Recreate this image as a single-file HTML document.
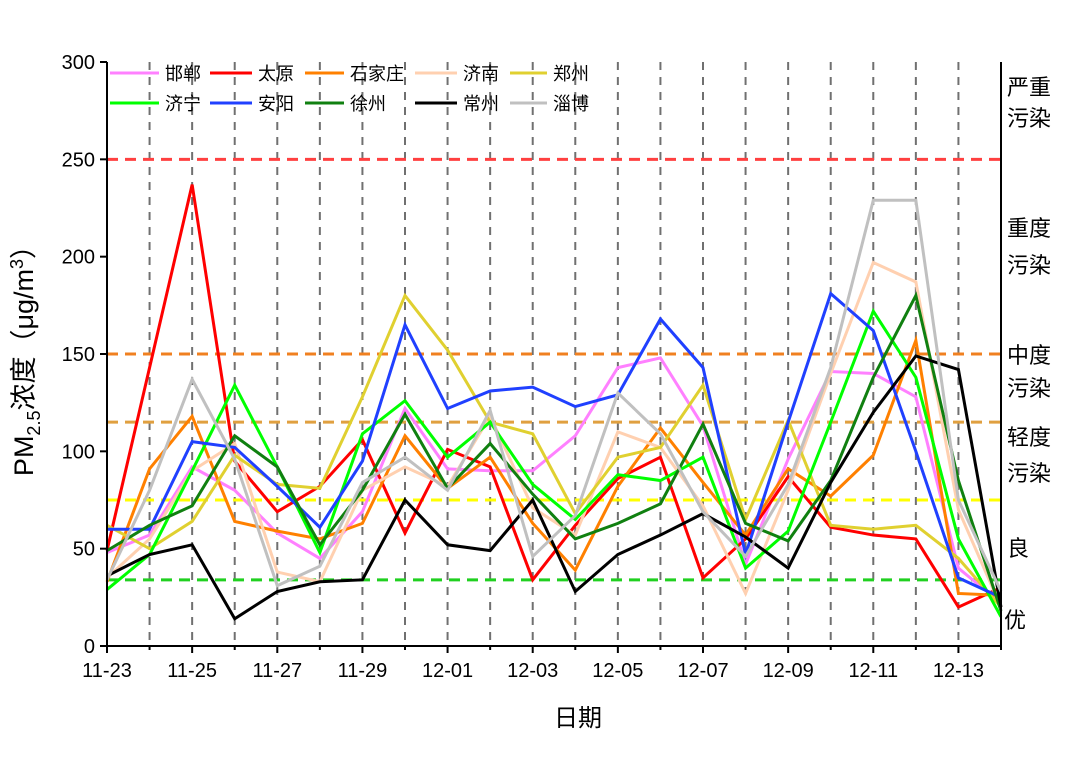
<!DOCTYPE html>
<html><head><meta charset="utf-8"><style>
body{margin:0;background:#fff}
svg text{font-family:"Liberation Sans","Noto Sans CJK SC",sans-serif;fill:#000}
</style></head><body>
<svg id="chart" width="1080" height="764" xmlns="http://www.w3.org/2000/svg">
<g id="grid"></g><g id="thresholds"></g><g id="series"></g><g id="axes"></g><g id="legend"></g>
<text x="578" y="726" font-size="24" text-anchor="middle">日期</text>
<text transform="translate(33,354) rotate(-90)" font-size="27" text-anchor="middle">PM<tspan font-size="18" dy="7">2.5</tspan><tspan dy="-7">浓度（μg/m</tspan><tspan font-size="18" dy="-10">3</tspan><tspan dy="10">）</tspan></text>
<g font-size="22">
<text x="1007" y="95">严重</text><text x="1007" y="126">污染</text>
<text x="1007" y="236">重度</text><text x="1007" y="273">污染</text>
<text x="1007" y="363">中度</text><text x="1007" y="396">污染</text>
<text x="1007" y="445">轻度</text><text x="1007" y="481">污染</text>
<text x="1007" y="556">良</text><text x="1004" y="628">优</text>
</g>
</svg>
<script>
const dates=["11-23","11-24","11-25","11-26","11-27","11-28","11-29","11-30","12-01","12-02","12-03","12-04","12-05","12-06","12-07","12-08","12-09","12-10","12-11","12-12","12-13","12-14"];
const yTicks=[0,50,100,150,200,250,300];
const thresholdValues=[250,150,115,75,34];
const thresholdColors=["#ff4040","#f08020","#e0a040","#ffff00","#20d020"];
const names=["邯郸","太原","石家庄","济南","郑州","济宁","安阳","徐州","常州","淄博"];
const colors=["#ff80ff","#ff0000","#ff8000","#ffd0b0","#e0d030","#00ff00","#2040ff","#108010","#000000","#c0c0c0"];
const handan=[48,57,92,80,58,45,69,122,91,90,90,108,143,148,113,42,96,141,140,128,40,22];
const taiyuan=[49,143,237,95,69,82,106,58,101,92,34,62,86,97,35,55,87,61,57,55,20,30];
const shijiazhuang=[33,91,118,64,59,55,63,108,81,97,63,39,82,112,84,57,91,77,98,157,27,26];
const jinan=[35,55,90,104,38,33,80,92,82,118,71,57,110,102,72,27,80,140,197,187,70,20];
const zhengzhou=[62,50,64,98,83,81,128,180,152,115,109,68,97,102,134,65,116,62,60,62,45,20];
const jining=[29,47,90,134,92,48,109,126,97,115,83,65,88,85,97,40,59,115,172,138,55,15];
const anyang=[60,60,105,102,82,61,95,165,122,131,133,123,129,168,143,47,115,181,162,100,35,25];
const xuzhou=[49,62,72,108,92,52,80,119,81,104,78,55,63,73,114,63,54,85,138,180,85,18];
const changzhou=[36,47,52,14,28,33,34,75,52,49,75,28,47,57,68,56,40,84,120,149,142,20];
const zibo=[34,80,137,96,31,41,84,97,80,121,46,67,130,109,69,46,83,143,229,229,75,28];
const seriesData=[handan,taiyuan,shijiazhuang,jinan,zhengzhou,jining,anyang,xuzhou,changzhou,zibo];
const X0=107,X1=1001,Y0=646,Y1=62,NS="http://www.w3.org/2000/svg";
const xs=i=>X0+(X1-X0)*i/(dates.length-1);
const ys=v=>Y0-(Y0-Y1)*v/300;
function mk(tag,attrs,parent){const e=document.createElementNS(NS,tag);for(const k in attrs)e.setAttribute(k,attrs[k]);parent.appendChild(e);return e;}
const grid=document.getElementById('grid');
for(let i=1;i<dates.length-1;i++){const l=mk('line',{x1:xs(i),x2:xs(i),y1:Y1,y2:Y0,stroke:'#707070','stroke-width':2,'stroke-dasharray':'8 7'},grid);

}
const th=document.getElementById('thresholds');
thresholdValues.forEach((v,i)=>{const l=mk('line',{x1:X0,x2:X1,y1:ys(v),y2:ys(v),stroke:thresholdColors[i],'stroke-width':3,'stroke-dasharray':'11 7'},th);

});
const sg=document.getElementById('series');
seriesData.forEach((d,s)=>{const p=mk('polyline',{points:d.map((v,i)=>xs(i)+','+ys(v)).join(' '),fill:'none',stroke:colors[s],'stroke-width':3,'stroke-linejoin':'miter'},sg);

});
const ax=document.getElementById('axes');
const a1=mk('path',{d:`M${X0},${Y1}V${Y0}H${X1}V${Y1}`,fill:'none',stroke:'#000','stroke-width':2},ax);


yTicks.forEach(v=>{mk('line',{x1:X0-7,x2:X0,y1:ys(v),y2:ys(v),stroke:'#000','stroke-width':2},ax);
const t=mk('text',{x:X0-12,y:ys(v)+7,'font-size':20,'text-anchor':'end'},ax);t.textContent=v;

});
dates.forEach((d,i)=>{mk('line',{x1:xs(i),x2:xs(i),y1:Y0,y2:Y0+(i%2?4:7),stroke:'#000','stroke-width':2},ax);
if(i%2===0){const t=mk('text',{x:xs(i),y:Y0+31,'font-size':20,'text-anchor':'middle'},ax);t.textContent=d;

}});
const lg=document.getElementById('legend');
const lx=[110,210,305,415,510],tx=[165,258,350,463,553];
names.forEach((n,k)=>{const r=Math.floor(k/5),c=k%5,y=r?103:73;
const g=mk('g',{},lg);


mk('line',{x1:lx[c],x2:tx[c]-6,y1:y,y2:y,stroke:colors[k],'stroke-width':3},g);
const t=mk('text',{x:tx[c],y:y+7,'font-size':18},g);t.textContent=n;});
</script>
</body></html>
